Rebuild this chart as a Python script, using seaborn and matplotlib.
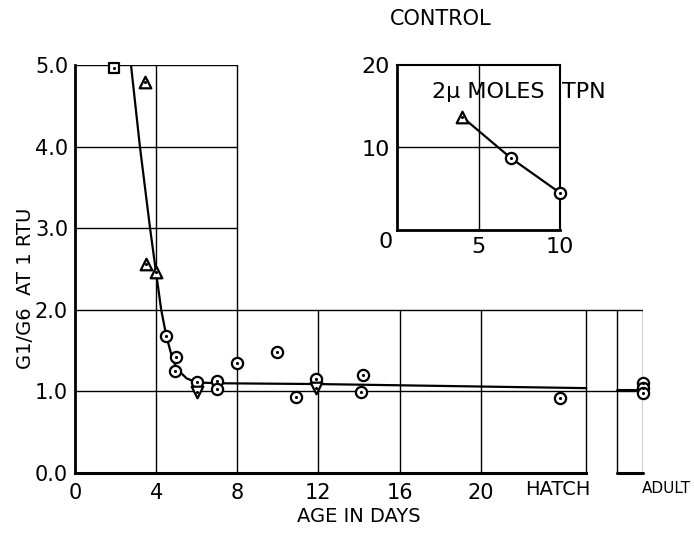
import numpy as np
import pandas as pd
import seaborn as sns
from matplotlib import pyplot as plt

sns.set_style('white')
plt.rcParams['font.family'] = ['DejaVu Sans']
plt.rcParams['text.color'] = 'black'
plt.rcParams['axes.edgecolor'] = 'black'
plt.rcParams['xtick.color'] = 'black'
plt.rcParams['ytick.color'] = 'black'

# main panel: G1/G6 ratio vs age
sq_day = [1.9]
sq_ratio = [4.96]
tri_day = [3.45, 3.5, 4.0]
tri_ratio = [4.79, 2.56, 2.46]
circ_day = [4.5, 5.0, 4.95, 6.0, 7.0, 7.0, 8.0, 9.95, 10.9, 11.9, 14.2, 14.1, 23.9, 28.0, 28.0, 28.0]
circ_ratio = [1.68, 1.42, 1.25, 1.12, 1.13, 1.03, 1.35, 1.48, 0.93, 1.15, 1.20, 0.99, 0.92, 1.10, 1.04, 0.98]
tdown_day = [6.0, 11.9]
tdown_ratio = [0.99, 1.04]

curve_day = [2.76, 3.2, 3.7, 4.0, 4.25, 4.5, 4.75, 5.0, 5.5, 6.0, 7.0, 12.0, 25.2]
curve_ratio = [5.0, 4.0, 3.0, 2.45, 2.0, 1.68, 1.45, 1.28, 1.16, 1.11, 1.10, 1.09, 1.04]
adult_day = [26.7, 28.0]
adult_ratio = [1.02, 1.02]

xticks = [0, 4, 8, 12, 16, 20]
yticks = [0, 1, 2, 3, 4, 5]
ytick_labels = ['0.0', '1.0', '2.0', '3.0', '4.0', '5.0']

# inset: control, 2 umoles TPN
ins_day = [4, 7, 10]
ins_ratio = [13.7, 8.7, 4.5]
ins_kind = ['tri', 'circ', 'circ']

pts = pd.concat([
    pd.DataFrame({'day': sq_day, 'ratio': sq_ratio, 'kind': 'sq'}),
    pd.DataFrame({'day': tri_day, 'ratio': tri_ratio, 'kind': 'tri'}),
    pd.DataFrame({'day': circ_day, 'ratio': circ_ratio, 'kind': 'circ'}),
    pd.DataFrame({'day': tdown_day, 'ratio': tdown_ratio, 'kind': 'tdown'}),
], ignore_index=True)
ins = pd.DataFrame({'day': ins_day, 'ratio': ins_ratio, 'kind': ins_kind})

mk = {'sq': 's', 'tri': '^', 'circ': 'o', 'tdown': 'v'}
sizes = {'sq': 55, 'tri': 70, 'circ': 65, 'tdown': 70}

fig = plt.figure(figsize=(6.94, 5.33), dpi=100)
ax = fig.add_axes([75/694, 1-473/533, 568/694, 408/533])

# L-shaped grid of the original figure
gk = dict(color='black', lw=1.0, zorder=1)
for yy in [3, 4, 5]:
    ax.plot([0, 8], [yy, yy], **gk)
for yy in [1, 2]:
    ax.plot([0, 28], [yy, yy], **gk)
for xx in [4, 8]:
    ax.plot([xx, xx], [0, 5], **gk)
for xx in [12, 16, 20, 25.2, 26.7, 28]:
    ax.plot([xx, xx], [0, 2], **gk)
ax.plot([26.7, 28], [0, 0], color='black', lw=2.2, zorder=2, clip_on=False)

sns.lineplot(x=curve_day, y=curve_ratio, ax=ax, color='black', lw=1.6, sort=False, zorder=3)
sns.lineplot(x=adult_day, y=adult_ratio, ax=ax, color='black', lw=2.2, zorder=3)

for k in ['sq', 'tri', 'circ', 'tdown']:
    sub = pts[pts['kind'] == k]
    sns.scatterplot(data=sub, x='day', y='ratio', ax=ax, marker=mk[k], s=sizes[k],
                    facecolor='white', edgecolor='black', linewidth=1.6, zorder=4, clip_on=False)
sns.scatterplot(data=pts, x='day', y='ratio', ax=ax, marker='o', s=5, color='black',
                linewidth=0, zorder=5, clip_on=False)

ax.set_xlim(0, 28)
ax.set_ylim(0, 5)
for s in ['top', 'right']:
    ax.spines[s].set_visible(False)
ax.spines['left'].set_linewidth(2.0)
ax.spines['bottom'].set_linewidth(2.2)
ax.spines['bottom'].set_bounds(0, 25.2)
ax.set_xticks(xticks)
ax.set_xticklabels([str(t) for t in xticks])
ax.set_yticks(yticks)
ax.set_yticklabels(ytick_labels)
ax.tick_params(axis='both', direction='out', length=4, width=1.2, labelsize=15, pad=1)
ax.tick_params(axis='x', pad=3)
ax.set_xlabel('')
ax.set_ylabel('')
ax.text(23.8, -0.08, 'HATCH', ha='center', va='top', fontsize=14, transform=ax.transData)
fig.text(691/694, 1-481/533, 'ADULT', ha='right', va='top', fontsize=11)
fig.text(359/694, 1-517/533, 'AGE IN DAYS', ha='center', va='center', fontsize=14)
fig.text(26/694, 1-288/533, 'G1/G6  AT 1 RTU', ha='center', va='center', rotation=90, fontsize=14)

# inset
ax2 = fig.add_axes([397/694, 1-230/533, 163/694, 165/533])
ax2.axvline(5, color='black', lw=1.0, zorder=1)
ax2.axhline(10, color='black', lw=1.0, zorder=1)
sns.lineplot(data=ins, x='day', y='ratio', ax=ax2, color='black', lw=1.6, zorder=3)
for k in ['tri', 'circ']:
    sub = ins[ins['kind'] == k]
    sns.scatterplot(data=sub, x='day', y='ratio', ax=ax2, marker=mk[k], s=sizes[k],
                    facecolor='white', edgecolor='black', linewidth=1.6, zorder=4, clip_on=False)
sns.scatterplot(data=ins, x='day', y='ratio', ax=ax2, marker='o', s=5, color='black',
                linewidth=0, zorder=5, clip_on=False)
ax2.set_xlim(0, 10)
ax2.set_ylim(0, 20)
for s in ax2.spines.values():
    s.set_linewidth(1.5)
ax2.spines['left'].set_linewidth(2.0)
ax2.spines['bottom'].set_linewidth(2.0)
ax2.set_xticks([0, 5, 10])
ax2.set_xticklabels(['', '5', '10'])
ax2.set_yticks([0, 10, 20])
ax2.set_yticklabels(['', '10', '20'])
ax2.tick_params(axis='both', direction='out', length=3, width=1.2, labelsize=16, pad=2)
ax2.set_xlabel('')
ax2.set_ylabel('')
ax2.text(-0.07, -0.07, '0', ha='center', va='center', fontsize=16, transform=ax2.transAxes)
fig.text(390/694, 1-19/533, 'CONTROL', ha='left', va='center', fontsize=15)
fig.text(432/694, 1-92/533, '2\u03bc MOLES', ha='left', va='center', fontsize=16)
fig.text(562/694, 1-92/533, 'TPN', ha='left', va='center', fontsize=16)

fig.savefig('out.png', dpi=100)
